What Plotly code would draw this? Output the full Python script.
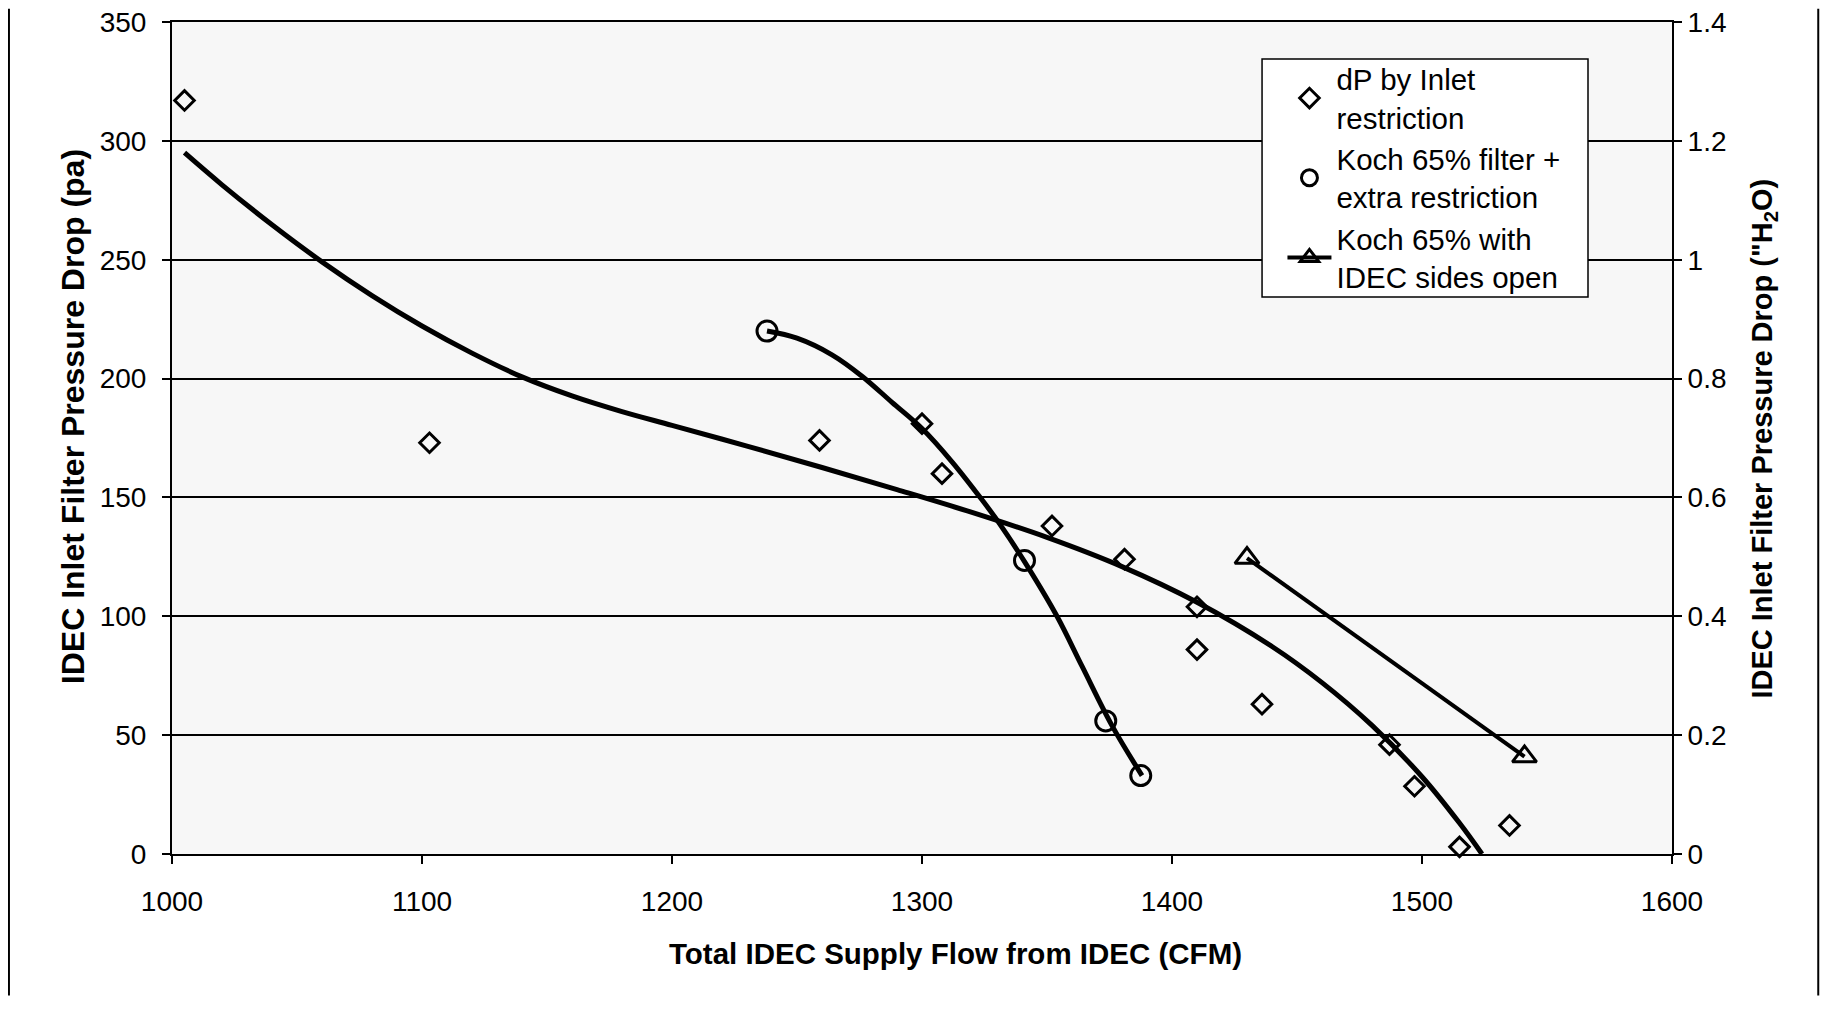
import plotly.graph_objects as go

# ---- data ----
dp_x = [1005, 1103, 1259, 1300, 1308, 1352, 1381, 1410, 1410, 1436, 1487, 1497, 1515, 1535]
dp_y = [317, 173, 174, 181, 160, 138, 124, 104, 86, 63, 46, 28.5, 3, 12]

koch_x = [1238, 1341, 1373.5, 1387.5]
koch_y = [220, 123.5, 56, 33]

open_x = [1430, 1541]
open_y = [124.5, 41]

# curves
trend_x = [1005, 1020, 1040, 1060, 1080, 1100, 1120, 1140, 1160, 1180, 1200, 1230,
           1260, 1290, 1320, 1350, 1380, 1410, 1440, 1460, 1480, 1500, 1515, 1524]
trend_y = [295, 281.5, 264.7, 249.1, 234.9, 222.1, 210.7, 200.7, 192.7, 186.1, 180.3, 171.6,
           162.6, 153.3, 143.7, 133.2, 120.9, 105.9, 87.3, 72.1, 54.1, 32.5, 13, 0]

kcurve_x = [1238, 1250, 1264, 1276, 1288, 1300, 1312, 1324, 1331, 1341, 1354, 1364, 1376, 1388]
kcurve_y = [220, 217, 210, 201, 190, 179, 165, 149, 139, 123, 100, 79, 54, 33]

x_ticks = [1000, 1100, 1200, 1300, 1400, 1500, 1600]
y_ticks = [0, 50, 100, 150, 200, 250, 300, 350]
y2_ticks = [0, 0.2, 0.4, 0.6, 0.8, 1.0, 1.2, 1.4]
y2_labels = ["0", "0.2", "0.4", "0.6", "0.8", "1", "1.2", "1.4"]

FONT = "Liberation Sans, Arial, sans-serif"

fig = go.Figure()

fig.add_trace(go.Scatter(
    x=trend_x, y=trend_y, mode="lines", showlegend=False,
    line=dict(color="black", width=5, shape="spline", smoothing=1.0),
    hoverinfo="skip"))

fig.add_trace(go.Scatter(
    x=kcurve_x, y=kcurve_y, mode="lines", showlegend=False,
    line=dict(color="black", width=5, shape="spline", smoothing=1.0),
    hoverinfo="skip"))

fig.add_trace(go.Scatter(
    x=dp_x, y=dp_y, mode="markers", name="dP by Inlet<br>restriction",
    legendgroup="a", cliponaxis=False,
    marker=dict(symbol="diamond-open", size=15, color="black", line=dict(width=3, color="black"))))

fig.add_trace(go.Scatter(
    x=koch_x, y=koch_y, mode="markers", name="Koch 65% filter +<br>extra restriction",
    legendgroup="b", cliponaxis=False,
    marker=dict(symbol="circle-open", size=20, color="black", line=dict(width=3, color="black"))))

fig.add_trace(go.Scatter(
    x=open_x, y=open_y, mode="lines+markers", name="Koch 65% with<br>IDEC sides open",
    legendgroup="c", cliponaxis=False,
    line=dict(color="black", width=4),
    marker=dict(symbol="triangle-up-open", size=21, color="black", line=dict(width=3, color="black"))))

# dummy trace to activate the secondary axis
fig.add_trace(go.Scatter(x=[None], y=[None], yaxis="y2", showlegend=False, hoverinfo="skip"))

fig.update_layout(
    width=1819, height=994,
    margin=dict(l=164, r=155, t=14, b=148, autoexpand=False),
    paper_bgcolor="white",
    plot_bgcolor="#f7f7f7",
    font=dict(family=FONT, color="black", size=28),
    showlegend=True,
    legend=dict(
        x=0.7403, y=0.9625, xanchor="left", yanchor="top",
        bgcolor="rgba(0,0,0,0)", borderwidth=0,
        font=dict(family=FONT, size=29.5, color="black"),
        tracegroupgap=0, itemwidth=44,
    ),
    xaxis=dict(
        range=[1000, 1600], tickvals=x_ticks, ticks="outside", ticklen=8,
        tickwidth=1.5, tickcolor="black", showline=True, linecolor="black",
        linewidth=2, mirror=True, showgrid=False, zeroline=False, automargin=False,
        tickfont=dict(size=28), ticklabelstandoff=13, ticklabeloverflow="allow",
    ),
    yaxis=dict(
        range=[0, 350], tickvals=y_ticks, ticks="outside", ticklen=8,
        tickwidth=1.5, tickcolor="black", showline=True, linecolor="black",
        linewidth=2, showgrid=True, gridcolor="black", gridwidth=1.5,
        zeroline=False, tickfont=dict(size=28), ticklabelstandoff=10,
        ticklabeloverflow="allow", automargin=False,
    ),
    yaxis2=dict(
        range=[0, 1.4], tickvals=y2_ticks, ticktext=y2_labels, overlaying="y",
        side="right", ticks="outside", ticklen=8, tickwidth=1.5, tickcolor="black",
        showline=True, linecolor="black", linewidth=2, showgrid=False,
        zeroline=False, tickfont=dict(size=28), ticklabeloverflow="allow",
        automargin=False,
    ),
    annotations=[
        dict(text="<b>Total IDEC Supply Flow from IDEC (CFM)</b>", xref="paper", yref="paper",
             x=0.5223, y=-0.12, xanchor="center", yanchor="middle", showarrow=False,
             font=dict(family=FONT, size=29.5, color="black")),
        dict(text="<b>IDEC Inlet Filter Pressure Drop (pa)</b>", xref="paper", yref="paper",
             x=-0.0663, y=0.5257, xanchor="center", yanchor="middle", showarrow=False,
             textangle=-90, font=dict(family=FONT, size=32, color="black")),
        dict(text='<b>IDEC Inlet Filter Pressure Drop ("H<sub>2</sub>O)</b>', xref="paper", yref="paper",
             x=1.0611, y=0.4989, xanchor="center", yanchor="middle", showarrow=False,
             textangle=-90, font=dict(family=FONT, size=29, color="black")),
    ],
)

# legend frame
fig.add_shape(type="rect", xref="paper", yref="paper", x0=0.7267, x1=0.944, y0=0.6695, y1=0.9555,
              fillcolor="white", line=dict(color="black", width=1.5), layer="above")

# outer frame side lines of the scanned page
fig.add_shape(type="line", xref="paper", yref="paper", x0=-0.1087, x1=-0.1087, y0=-0.17, y1=1.016,
              line=dict(color="black", width=2))
fig.add_shape(type="line", xref="paper", yref="paper", x0=1.0975, x1=1.0975, y0=-0.17, y1=1.016,
              line=dict(color="black", width=2))

fig.write_html("out.html")
